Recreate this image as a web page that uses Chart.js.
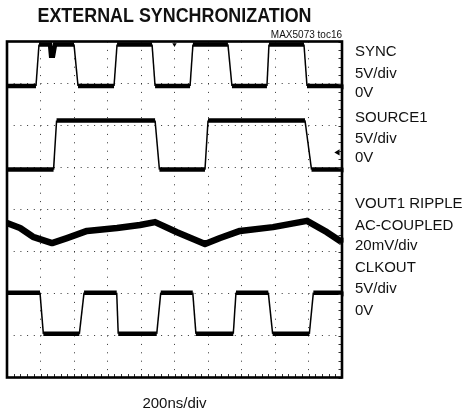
<!DOCTYPE html>
<html><head><meta charset="utf-8">
<script src="https://cdn.jsdelivr.net/npm/chart.js@4/dist/chart.umd.min.js"></script>
<style>html,body{margin:0;padding:0;background:#fff}#wrap{width:464px;height:414px;position:relative}</style>
</head><body><div id="wrap"><canvas id="c"></canvas></div>
<script>
// ---- texts ----
const titleText = 'EXTERNAL SYNCHRONIZATION';
const noteText = 'MAX5073 toc16';
const xAxisLabel = '200ns/div';
const channelLabels = ['SYNC','5V/div','0V','SOURCE1','5V/div','0V','VOUT1 RIPPLE','AC-COUPLED','20mV/div','CLKOUT','5V/div','0V'];
const channelLabelBaselines = [56,78,97,121.5,143,161.5,208,230,250,271.5,293,315];

// ---- axes (time in ns, vertical in screen divisions) ----
const timeTicks = [0,200,400,600,800,1000,1200,1400,1600,1800,2000];
const divTicks = [0,1,2,3,4,5,6,7,8];

// ---- SYNC (5V/div) ----
const syncT = [0,173,191,257,263,275,287,400,424,639,657,866,884,1093,1110,1319,1343,1552,1564,1773,1791,2000];
const syncV = [6.94,6.94,7.93,7.93,7.66,7.66,7.93,7.93,6.94,6.94,7.93,7.93,6.94,6.94,7.93,7.93,6.94,6.94,7.93,7.93,6.94,6.94];

// ---- SOURCE1 (5V/div) ----
const sourceT = [0,278,296,884,910,1182,1200,1779,1818,2000];
const sourceV = [4.95,4.95,6.12,6.12,4.95,4.95,6.12,6.12,4.95,4.95];

// ---- VOUT1 ripple (20mV/div, AC coupled) ----
const rippleT = [0,78,155,269,358,478,657,794,884,1015,1182,1272,1391,1588,1791,1910,2000];
const rippleV = [3.68,3.56,3.35,3.20,3.32,3.49,3.56,3.63,3.70,3.46,3.18,3.32,3.49,3.58,3.73,3.46,3.22];

// ---- CLKOUT (5V/div) ----
const clkT = [0,197,217,432,460,655,664,894,918,1109,1128,1351,1367,1560,1586,1805,1829,2000];
const clkV = [2.02,2.02,1.04,1.04,2.02,2.02,1.04,1.04,2.02,2.02,1.04,1.04,2.02,2.02,1.04,1.04,2.02,2.02];

// ---- scope markers: trigger level, trigger position, channel ground levels ----
const markerT = [1975,1000,2000,2000,2000,2000];
const markerV = [5.36,7.93,6.92,4.94,3.27,1.99];
const markerRot = [270,180,270,270,270,270];
const markerSize = [3.5,2.5,3,3,3,3];

const pts = (t,v) => t.map((x,i)=>({x:x,y:v[i]}));
const stepWidth = ctx => Math.abs(ctx.p0.parsed.y - ctx.p1.parsed.y) < 0.5 ? 4.5 : 1.5;

const lineDs = (t,v) => ({
  data: pts(t,v), showLine:true, borderColor:'#000', backgroundColor:'#000',
  pointRadius:0, borderWidth:1.5, segment:{borderWidth:stepWidth}
});

const scopeDecor = {
  id:'scopeDecor',
  afterDatasetsDraw(chart){
    const {ctx, chartArea:a, scales:{x,y}} = chart;
    ctx.save();
    ctx.strokeStyle='#333'; ctx.lineWidth=1;
    ctx.beginPath();
    for (let t=timeTicks[0]; t<=timeTicks[timeTicks.length-1]; t+=40){
      const px=Math.round(x.getPixelForValue(t))+0.5;
      ctx.moveTo(px,a.bottom); ctx.lineTo(px,a.bottom-3.5);
    }
    for (let k=0; k<=40; k++){
      const py=Math.round(y.getPixelForValue(k*0.2))+0.5;
      ctx.moveTo(a.right,py); ctx.lineTo(a.right-3.5,py);
    }
    ctx.stroke();
    ctx.strokeStyle='#000'; ctx.lineWidth=2.6;
    ctx.strokeRect(a.left,a.top,a.right-a.left,a.bottom-a.top);
    ctx.restore();
  },
  afterDraw(chart){
    const {ctx, chartArea:a} = chart;
    ctx.save();
    ctx.fillStyle='#111';
    ctx.textBaseline='alphabetic';
    ctx.font='bold 21px "Liberation Sans", Arial, sans-serif';
    const w=ctx.measureText(titleText).width, target=274;
    const cx=(a.left+a.right)/2;
    ctx.translate(cx,22); ctx.scale(target/w,1);
    ctx.textAlign='center'; ctx.fillText(titleText,0,0);
    ctx.setTransform(1,0,0,1,0,0);
    ctx.font='10px "Liberation Sans", Arial, sans-serif';
    ctx.textAlign='right'; ctx.fillText(noteText,a.right,37.5);
    ctx.font='15px "Liberation Sans", Arial, sans-serif';
    ctx.textAlign='left';
    channelLabels.forEach((s,i)=>ctx.fillText(s,355,channelLabelBaselines[i]));
    ctx.textAlign='center';
    ctx.fillText(xAxisLabel,cx,408);
    ctx.restore();
  }
};

new Chart(document.getElementById('c'), {
  type:'scatter',
  data:{datasets:[
    lineDs(syncT,syncV),
    lineDs(sourceT,sourceV),
    {data:pts(rippleT,rippleV), showLine:true, borderColor:'#000', pointRadius:0, borderWidth:6.5, borderJoinStyle:'round'},
    lineDs(clkT,clkV),
    {data:pts(markerT,markerV), showLine:false, pointStyle:'triangle', pointRotation:markerRot,
     pointRadius:markerSize, backgroundColor:'#000', borderColor:'#000', borderWidth:0, clip:false}
  ]},
  options:{
    responsive:true, maintainAspectRatio:false, animation:false,
    layout:{padding:{left:7,top:41.5,right:122,bottom:36.5}},
    plugins:{legend:{display:false}, tooltip:{enabled:false}, title:{display:false}},
    scales:{
      x:{type:'linear', min:0, max:2000, afterBuildTicks:s=>{s.ticks=timeTicks.map(v=>({value:v}));},
         ticks:{display:false}, grid:{color:'#333', lineWidth:1, drawTicks:false},
         border:{display:false, dash:[1,7.4]}},
      y:{type:'linear', min:0, max:8, afterBuildTicks:s=>{s.ticks=divTicks.map(v=>({value:v}));},
         ticks:{display:false}, grid:{color:'#333', lineWidth:1, drawTicks:false},
         border:{display:false, dash:[1,5.7]}}
    }
  },
  plugins:[scopeDecor]
});
</script></body></html>
